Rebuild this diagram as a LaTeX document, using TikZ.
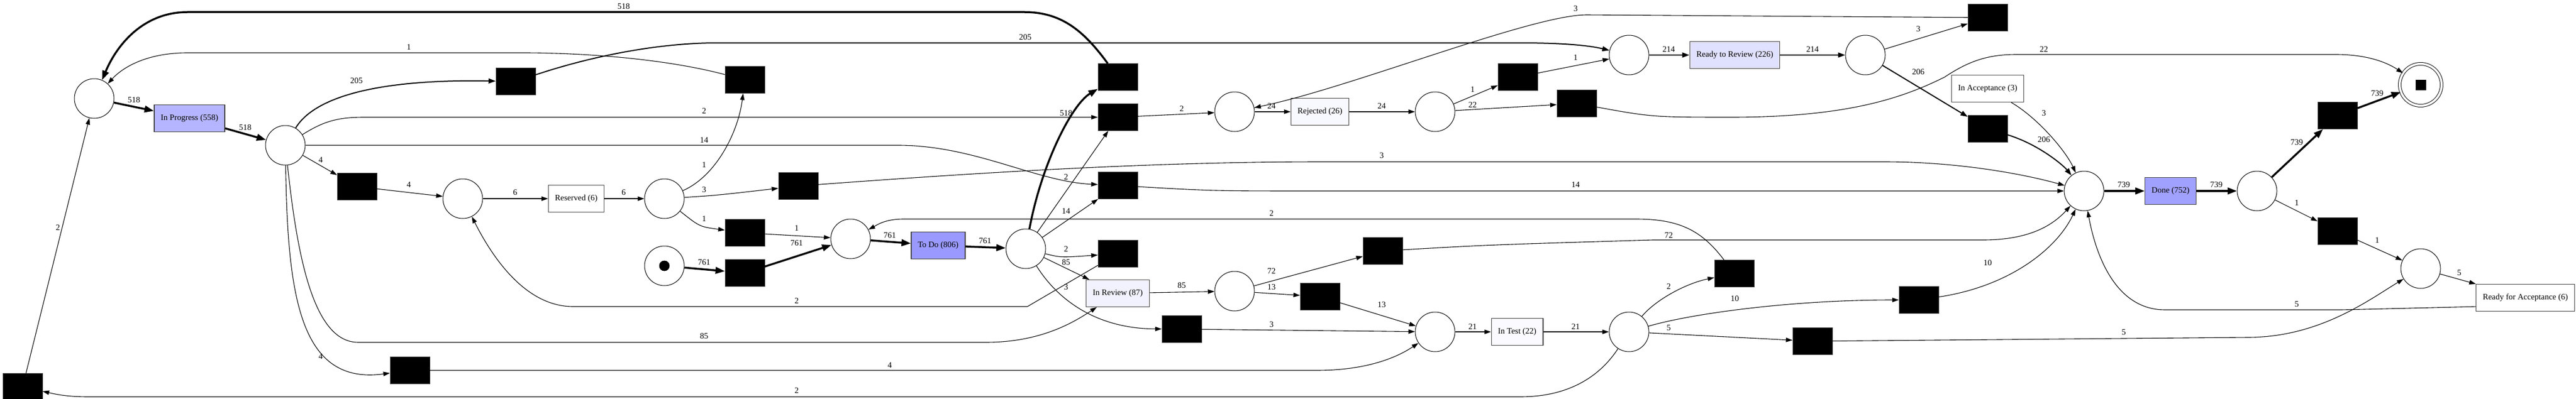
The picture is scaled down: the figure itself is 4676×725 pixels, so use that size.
\documentclass[tikz,border=0pt]{standalone}
\usepackage{fontspec}
\setmainfont{Liberation Serif}
\usetikzlibrary{arrows.meta}

\definecolor{colIP}{RGB}{181,181,255}
\definecolor{colTD}{RGB}{153,153,255}
\definecolor{colDN}{RGB}{160,160,255}
\definecolor{colRR}{RGB}{224,224,255}
\definecolor{colIR}{RGB}{242,242,255}
\definecolor{colRJ}{RGB}{248,248,255}
\definecolor{colIT}{RGB}{250,250,255}

\begin{document}
\begin{tikzpicture}[x=1pt, y=-1pt, font=\fontsize{15}{18}\selectfont,
	place/.style={draw, circle, line width=1pt, minimum size=72pt, inner sep=0pt},
	trans/.style={draw=black!70, fill=black, minimum width=72pt, minimum height=49pt, inner sep=0pt},
	act/.style={draw=black!75, line width=1.2pt, minimum height=49pt, inner xsep=12pt, inner ysep=0pt},
	flow/.style={-{Triangle[length=12pt,width=8pt]}, line width=1.1pt},
	flowmid/.style={-{Triangle[length=13pt,width=9pt]}, line width=2pt},
	flowheavy/.style={-{Triangle[length=17pt,width=12pt]}, line width=3.5pt},
	lab/.style={inner sep=0pt}]

\useasboundingbox (0,0) rectangle (4676,725);

% places
\foreach \nm/\x/\y in {pa/171/179, pb/518/264, pc/840/361, pd/1206/361, pstart/1206/483,
	pe/1544/434, pg/1862/452, pf/2241/203, ph/2241/529, pi/2605/203, ptest/2605/603,
	prr/2957/100, pj/2957/603, prr2/3386/100, pdone/3783/347, pk/4097/347, pra/4394/488}
	\node[place] (\nm) at (\x,\y) {};
\node[place, minimum size=76pt, double, double distance=4pt] (pfinal) at (4394,154) {\rule{19pt}{19pt}};
\fill (pstart) circle (9.5);

% silent transitions
\foreach \nm/\x/\y in {t205/936/148, t1top/1352/145, t4a/648/339, t4b/744/673, tbl/41/703,
	t3res/1449/338, t1res/1352/423, tstart/1352/496, t518/2029/140, t2a/2029/213,
	t14/2029/337, t2c/2029/461, t3b/2145/598, t1b/2755/140, t22/2862/188, t13/2396/539,
	t72/2510/456, tback/3148/497, t5/3290/620, t10/3483/545, t3top/3608/32,
	t206/3608/234, t739/4243/210, t1d/4243/420}
	\node[trans] (\nm) at (\x,\y) {};

% activities
\node[act, fill=colIP] (inprog) at (344,215) {In Progress (558)};
\node[act] (reserved) at (1046,361) {Reserved (6)};
\node[act, fill=colTD] (todo) at (1703,446) {To Do (806)};
\node[act, fill=colIR] (inreview) at (2029,533) {In Review (87)};
\node[act, fill=colRJ] (rejected) at (2396,203) {Rejected (26)};
\node[act, fill=colIT] (intest) at (2754,603) {In Test (22)};
\node[act, fill=colRR] (readyrev) at (3149,100) {Ready to Review (226)};
\node[act] (inacc) at (3608,161) {In Acceptance (3)};
\node[act, fill=colDN] (done) at (3940,347) {Done (752)};
\node[act] (rfa) at (4584,541) {Ready for Acceptance (6)};

% straight arcs
\foreach \a/\b/\lx/\ly/\w in {pb/t4a/582/291/4, t4a/pc/742/336/4, tbl/pa/105/414/2,
	pc/reserved/935/350/6, reserved/pd/1132/350/6, t1res/pe/1446/415/1,
	pg/t2a/1935/322/2, pg/t14/1935/384/14, pg/inreview/1935/477/85, t2a/pf/2145/198/2,
	inreview/ph/2145/519/85, ph/t72/2308/493/72, ph/t13/2308/522/13, t13/ptest/2508/554/13,
	t3b/ptest/2308/590/3, ptest/intest/2673/594/21, intest/pj/2860/594/21, pj/t5/3029/596/5,
	pf/rejected/2308/193/24, rejected/pi/2508/193/24, pi/t1b/2673/163/1, pi/t22/2673/191/22,
	t1b/prr/2860/105/1, prr2/t3top/3482/53/3, pk/t1d/4169/369/1, t1d/pra/4315/437/1,
	pra/rfa/4464/496/5}
	\draw[flow] (\a) -- (\b) node[lab] at (\lx,\ly) {\w};
\foreach \a/\b/\lx/\ly/\w in {prr/readyrev/3029/90/214, readyrev/prr2/3290/90/214,
	prr2/t206/3482/131/206}
	\draw[flowmid] (\a) -- (\b) node[lab] at (\lx,\ly) {\w};
\foreach \a/\b/\lx/\ly/\w in {pa/inprog/243/182/518, inprog/pb/445/232/518,
	pstart/tstart/1278/477/761, tstart/pe/1446/442/761, pe/todo/1615/428/761,
	todo/pg/1788/438/761, pdone/done/3855/336/739, done/pk/4023/336/739,
	pk/t739/4169/259/739, t739/pfinal/4315/170/739}
	\draw[flowheavy] (\a) -- (\b) node[lab] at (\lx,\ly) {\w};

% curved arcs
\draw[flowmid] (pb) .. controls (565,185) and (660,143) .. (t205) node[lab] at (647,147) {205};
\draw[flowmid] (t205) .. controls (1080,100) and (1200,78) .. (1300,78) -- (2760,78)
	.. controls (2850,78) and (2890,84) .. (prr) node[lab] at (1861,68) {205};
\draw[flow] (t1top) .. controls (1200,105) and (1050,96) .. (950,96) -- (340,96)
	.. controls (270,96) and (225,120) .. (pa) node[lab] at (742,86) {1};
\draw[flowheavy] (t518) .. controls (1970,60) and (1930,22) .. (1860,22) -- (340,22)
	.. controls (265,22) and (215,75) .. (pa) node[lab] at (1132,12) {518};
\draw[flow] (pb) .. controls (585,222) and (610,213) .. (660,213) -- (t2a) node[lab] at (1278,202) {2};
\draw[flow] (pb) -- (1630,264) .. controls (1770,264) and (1880,330) .. (t14) node[lab] at (1278,255) {14};
\draw[flow] (pb) .. controls (522,540) and (545,700) .. (t4b) node[lab] at (582,648) {4};
\draw[flow] (pb) .. controls (540,470) and (570,622) .. (650,622) -- (1790,622)
	.. controls (1890,622) and (1950,585) .. (inreview) node[lab] at (1278,611) {85};
\draw[flow] (pj) .. controls (2900,690) and (2840,721) .. (2760,721) -- (160,721)
	.. controls (120,721) and (100,716) .. (tbl) node[lab] at (1446,710) {2};
\draw[flow] (pd) .. controls (1300,320) and (1340,240) .. (t1top) node[lab] at (1278,300) {1};
\draw[flow] (pd) .. controls (1300,355) .. (t3res) node[lab] at (1278,345) {3};
\draw[flow] (pd) .. controls (1270,412) .. (t1res) node[lab] at (1278,398) {1};
\draw[flowheavy] (pg) .. controls (1890,300) and (1945,190) .. (t518) node[lab] at (1935,206) {518};
\draw[flow] (pg) .. controls (1925,468) .. (t2c) node[lab] at (1935,453) {2};
\draw[flow] (pg) .. controls (1920,545) and (1990,597) .. (t3b) node[lab] at (1935,522) {3};
\draw[flow] (t2c) -- (1865,557) -- (1040,557) .. controls (955,557) and (895,470) .. (pc)
	node[lab] at (1446,547) {2};
\draw[flow] (t4b) -- (2390,673) .. controls (2480,673) and (2535,650) .. (ptest) node[lab] at (1615,664) {4};
\draw[flow] (pj) .. controls (3005,545) and (3060,515) .. (tback) node[lab] at (3029,521) {2};
\draw[flow] (pj) .. controls (3070,570) and (3250,545) .. (t10) node[lab] at (3149,543) {10};
\draw[flow] (tback) .. controls (3090,420) and (3050,398) .. (2970,398) -- (1640,398)
	.. controls (1605,398) and (1590,410) .. (pe) node[lab] at (2308,388) {2};
\draw[flow] (t10) .. controls (3650,520) and (3735,450) .. (pdone) node[lab] at (3608,478) {10};
\draw[flow] (t5) -- (4080,613) .. controls (4210,613) and (4300,545) .. (pra) node[lab] at (3855,604) {5};
\draw[flow] ([yshift=9pt]rfa.south west) -- (4250,563) -- (3930,563)
	.. controls (3830,563) and (3800,440) .. (pdone) node[lab] at (4169,553) {5};
\draw[flow] (t72) .. controls (2700,445) .. (3000,436) -- (3600,436)
	.. controls (3690,436) and (3730,405) .. (pdone) node[lab] at (3029,428) {72};
\draw[flow] (t14) .. controls (2200,347) .. (2400,347) -- (pdone) node[lab] at (2860,336) {14};
\draw[flow] (t3res) .. controls (1800,312) and (2100,294) .. (2400,294) -- (3420,294)
	.. controls (3560,294) and (3680,318) .. (pdone) node[lab] at (2508,283) {3};
\draw[flowmid] (t206) .. controls (3700,262) and (3745,300) .. (pdone) node[lab] at (3710,254) {206};
\draw[flow] (inacc) .. controls (3700,215) and (3750,275) .. (pdone) node[lab] at (3710,206) {3};
\draw[flow] (t3top) -- (2880,27) .. controls (2780,27) and (2450,160) .. (pf) node[lab] at (2860,16) {3};
\draw[flow] (t22) .. controls (3000,213) .. (3150,213) .. controls (3350,212) and (3450,180) .. (3530,140)
	.. controls (3575,110) and (3610,99) .. (3660,99) -- (4240,99)
	.. controls (4300,99) and (4335,115) .. (pfinal) node[lab] at (3710,90) {22};
\end{tikzpicture}
\end{document}
